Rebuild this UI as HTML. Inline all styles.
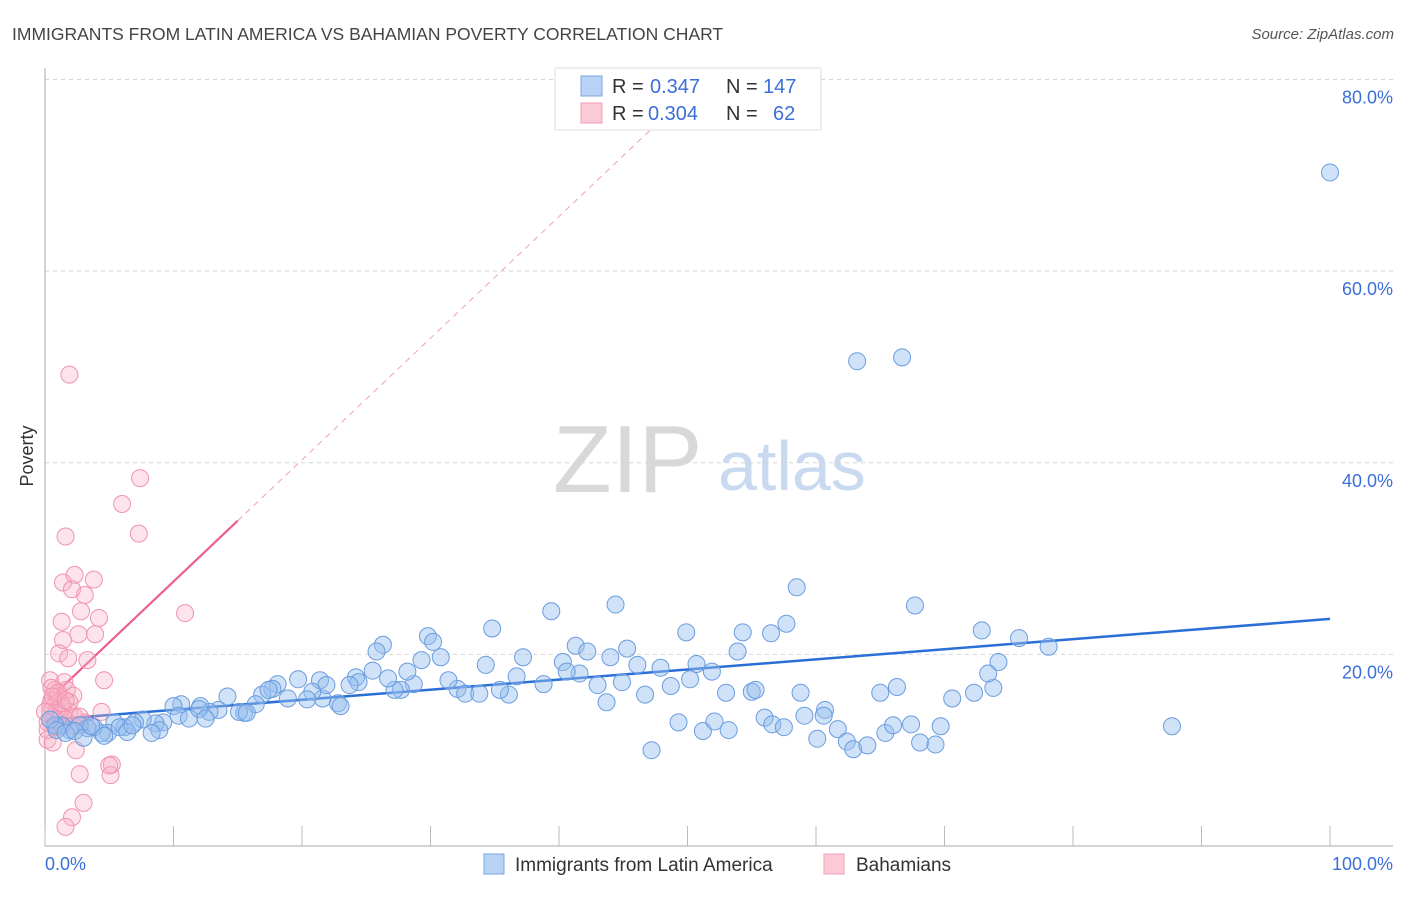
<!DOCTYPE html>
<html><head><meta charset="utf-8"><style>
body{margin:0;background:#fff;font-family:"Liberation Sans",sans-serif;}
svg text{font-family:"Liberation Sans",sans-serif;}
</style></head><body>
<svg id="chart" width="1406" height="892" xmlns="http://www.w3.org/2000/svg">
<text x="12" y="40" font-size="17.5" fill="#444">IMMIGRANTS FROM LATIN AMERICA VS BAHAMIAN POVERTY CORRELATION CHART</text>
<text x="1394" y="39" font-size="15" fill="#555" text-anchor="end" font-style="italic">Source: ZipAtlas.com</text>
<g>
<text x="553" y="492" font-size="96" fill="#d8d8d8" font-family="Liberation Serif, serif">ZIP</text>
<text x="718" y="490" font-size="70" fill="#c8d9f0">atlas</text>
</g>
<g id="grid"></g>
<g id="axes"></g>
<g id="lines"></g>
<g id="pts"></g>
<g>
<rect x="555" y="68" width="266" height="62" fill="#fff" stroke="#ddd"/>
<rect x="581" y="76" width="21" height="20" fill="#b8d3f5" stroke="#7aa6e0"/>
<rect x="581" y="103" width="21" height="20" fill="#fcc9d6" stroke="#f0a0b8"/>
<text x="612" y="93" font-size="20" fill="#333">R =</text>
<text x="650" y="93" font-size="20" fill="#3b6fd8">0.347</text>
<text x="726" y="93" font-size="20" fill="#333">N =</text>
<text x="763" y="93" font-size="20" fill="#3b6fd8">147</text>
<text x="612" y="120" font-size="20" fill="#333">R =</text>
<text x="648" y="120" font-size="20" fill="#3b6fd8">0.304</text>
<text x="726" y="120" font-size="20" fill="#333">N =</text>
<text x="773" y="120" font-size="20" fill="#3b6fd8">62</text>
</g>
<text transform="translate(33,456) rotate(-90)" font-size="18" fill="#333" text-anchor="middle">Poverty</text>
<text x="45" y="870" font-size="18" fill="#3b6fd8">0.0%</text>
<text x="1393" y="870" font-size="18" fill="#3b6fd8" text-anchor="end">100.0%</text>
<g>
<rect x="484" y="854" width="20" height="20" fill="#b8d3f5" stroke="#7aa6e0"/>
<text x="515" y="871" font-size="19" fill="#333">Immigrants from Latin America</text>
</g>
<g>
<rect x="824" y="854" width="20" height="20" fill="#fcc9d6" stroke="#f0a0b8"/>
<text x="856" y="871" font-size="19" fill="#333">Bahamians</text>
</g>
</svg>
<script>
const yTicks=[20,40,60,80];
const yTickLabels=["20.0%","40.0%","60.0%","80.0%"];
const xTicks=[0,10,20,30,40,50,60,70,80,90,100];
const blueX=[100,63.2,66.7,58.5,39.4,44.4,67.7,72.9,75.8,78.1,74.2,87.7,49.9,54.3,56.5,57.7,34.8,29.8,26.3,25.8,30.2,30.8,29.3,37.2,41.3,42.2,45.3,44.0,40.3,46.1,47.9,50.7,51.9,53.9,50.2,48.7,46.7,44.9,43.0,43.7,41.6,40.6,38.8,36.7,36.1,35.4,34.3,32.1,31.4,32.7,33.8,28.7,28.2,27.7,27.2,26.7,25.5,24.2,24.4,23.7,22.8,23.0,21.4,21.6,21.9,19.7,20.8,20.4,18.9,18.1,17.7,16.9,17.4,16.4,15.5,14.2,15.1,15.7,13.5,12.8,12.1,10.6,10.0,10.4,11.2,12.0,12.5,9.2,8.6,8.9,8.3,7.6,7.0,6.2,5.4,4.9,4.4,3.8,3.3,2.7,1.9,1.3,0.8,0.4,0.9,1.6,2.3,3.0,3.6,4.6,5.8,6.4,6.8,53.0,55.0,55.3,58.8,60.7,60.6,59.1,65.0,66.3,70.6,72.3,73.8,73.4,49.3,51.2,52.1,53.2,56.0,56.6,57.5,60.1,61.7,62.4,62.9,64.0,65.4,66.0,67.4,68.1,69.3,69.7,47.2];
const blueY=[70.3,50.6,51.0,27.0,24.5,25.2,25.1,22.5,21.7,20.8,19.2,12.5,22.3,22.3,22.2,23.2,22.7,21.9,21.0,20.3,21.3,19.7,19.4,19.7,20.9,20.3,20.6,19.7,19.2,18.9,18.6,19.0,18.2,20.3,17.4,16.7,15.8,17.1,16.8,15.0,18.0,18.2,16.9,17.7,15.8,16.3,18.9,16.4,17.3,15.9,15.9,16.9,18.2,16.3,16.3,17.5,18.3,17.6,17.1,16.8,14.9,14.6,17.3,15.4,16.8,17.4,16.1,15.3,15.4,16.9,16.4,15.8,16.3,14.8,13.9,15.6,14.0,13.9,14.2,14.0,14.6,14.8,14.6,13.6,13.3,14.3,13.3,12.9,12.8,12.1,11.8,13.2,12.9,12.4,12.9,11.8,11.8,12.4,12.3,12.6,12.1,12.6,12.6,13.2,12.1,11.8,12.0,11.3,12.5,11.5,12.4,11.9,12.6,16.0,16.1,16.3,16.0,14.2,13.6,13.6,16.0,16.6,15.4,16.0,16.5,18.0,12.9,12.0,13.0,12.1,13.4,12.7,12.4,11.2,12.2,10.9,10.1,10.5,11.8,12.6,12.7,10.8,10.6,12.5,10.0];
const pinkX=[1.9,7.4,6.0,7.3,1.6,1.4,3.8,2.3,3.1,2.1,10.9,4.2,1.3,2.8,3.9,1.4,2.6,1.1,1.8,3.3,4.6,0.4,1.5,0.8,1.7,2.2,0.5,1.0,1.4,0.4,1.2,1.9,3.1,2.3,4.4,0.7,0.2,0.8,0.2,0.6,2.4,5.2,5.1,2.7,3.0,2.1,1.6,0.4,0.9,1.3,1.6,0.0,0.5,1.0,1.9,2.2,0.2,1.2,5.0,2.7,0.6,1.6];
const pinkY=[49.2,38.4,35.7,32.6,32.3,27.5,27.8,28.3,26.2,26.8,24.3,23.8,23.4,24.5,22.1,21.5,22.1,20.1,19.6,19.4,17.3,17.3,17.1,16.3,16.3,15.7,15.2,15.6,14.5,14.0,13.7,14.0,12.9,13.5,14.0,13.2,12.9,12.4,11.1,10.8,10.0,8.5,7.4,7.5,4.5,3.0,2.0,14.7,14.2,14.9,13.2,14.0,16.5,16.0,15.0,12.6,12.1,12.4,8.4,13.5,15.6,15.2];
const blueTrend=[13.15,23.7];
const pinkTrend=[14.9,1.27];
const X0=45,X1=1330,Y0=846,Y80=79.5;
const sx=v=>X0+(X1-X0)*v/100;
const sy=v=>Y0-(Y0-Y80)*v/80;
const NS="http://www.w3.org/2000/svg";
function mk(tag,attrs,parent){const e=document.createElementNS(NS,tag);for(const k in attrs)e.setAttribute(k,attrs[k]);parent.appendChild(e);return e;}
const grid=document.getElementById('grid'),axes=document.getElementById('axes'),lines=document.getElementById('lines'),pts=document.getElementById('pts');
yTicks.forEach((t,i)=>{
 const l=mk('line',{x1:45,x2:1393,y1:sy(t),y2:sy(t),stroke:'#d5d5d5','stroke-dasharray':'4,4'},grid);
 
 
 const tx=mk('text',{x:1393,y:sy(t)+24,'font-size':18,fill:'#3b6fd8','text-anchor':'end'},grid);
 tx.textContent=yTickLabels[i];
 
 
});
const ax=mk('line',{x1:45,x2:45,y1:68,y2:846,stroke:'#aaa'},axes);


const bx=mk('line',{x1:45,x2:1393,y1:846,y2:846,stroke:'#aaa'},axes);


xTicks.forEach(t=>{
 const l=mk('line',{x1:sx(t),x2:sx(t),y1:826,y2:846,stroke:'#bbb'},axes);
 
 
});
pinkX.forEach((x,i)=>{
 const c=mk('circle',{cx:sx(x),cy:sy(pinkY[i]),r:8.5,fill:'rgba(248,175,198,0.35)',stroke:'#f093ae','stroke-width':1},pts);
 
 
});
blueX.forEach((x,i)=>{
 const c=mk('circle',{cx:sx(x),cy:sy(blueY[i]),r:8.5,fill:'rgba(150,190,238,0.45)',stroke:'#6a9ce0','stroke-width':1},pts);
 
 
});
const bl=mk('line',{x1:sx(0),y1:sy(blueTrend[0]),x2:sx(100),y2:sy(blueTrend[1]),stroke:'#2a6fd6','stroke-width':2.5},lines);


const pEnd=15, pDash=47.3;
const pl=mk('line',{x1:sx(0.2),y1:sy(pinkTrend[0]+pinkTrend[1]*0.2),x2:sx(pEnd),y2:sy(pinkTrend[0]+pinkTrend[1]*pEnd),stroke:'#ec5f8a','stroke-width':2.2},lines);


const pd=mk('line',{x1:sx(pEnd),y1:sy(pinkTrend[0]+pinkTrend[1]*pEnd),x2:sx(pDash),y2:sy(pinkTrend[0]+pinkTrend[1]*pDash),stroke:'#f0a0b8','stroke-width':1,'stroke-dasharray':'6,5'},lines);


</script>
</body></html>
